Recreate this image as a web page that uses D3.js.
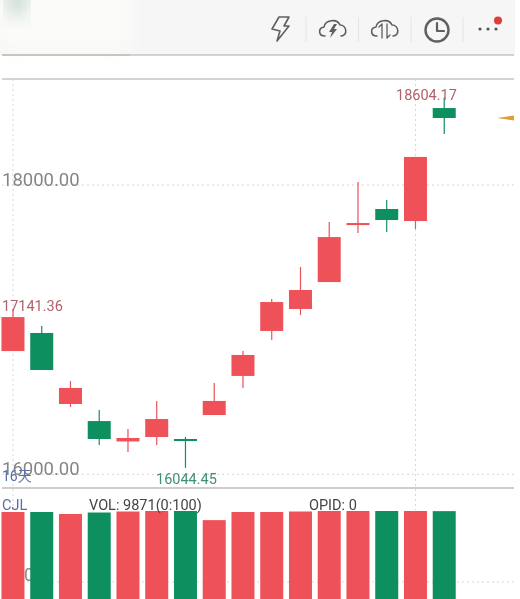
<!DOCTYPE html>
<html>
<head>
<meta charset="utf-8">
<script src="https://cdn.jsdelivr.net/npm/d3@7/dist/d3.min.js"></script>
<style>
html,body{margin:0;padding:0;background:#fff;overflow:hidden}
svg{display:block}
text{font-family:Roboto,"Noto Sans CJK SC",sans-serif}
</style>
</head>
<body>
<svg id="c" width="520" height="599"></svg>
<script>
const opens  = [16852,16977,16486,16368,16227,16258,16244,16410,16680,16991,17143,17329,17723,17834,17751,18532];
const closes = [17087,16721,16597,16244,16251,16382,16230,16507,16825,17191,17274,17640,17737,17758,18194,18463];
const highs  = [17141.36,17025,16645,16445,16313,16507,16258,16631,16852,17212,17433,17744,18021,17896,18194,18604.17];
const lows   = [16852,16721,16465,16203,16154,16203,16044.45,16410,16597,16928,17101,17329,17668,17675,17696,18353];
const volumes = [9773,9773,9550,9716,9830,9886,9886,8860,9773,9773,9830,9886,9886,9886,9886,9871];
const volumeUp = [1,0,1,0,1,1,0,1,1,1,1,1,1,0,1,0];
const priceTicks = [18000,16000];
const RED="#ee5159", GREEN="#0f8f5f";

const svg=d3.select("#c");
const defs=svg.append("defs");
defs.append("filter").attr("id","soft").attr("x","-50%").attr("y","-50%").attr("width","200%").attr("height","200%")
  .append("feGaussianBlur").attr("stdDeviation",9);
defs.append("filter").attr("id","photo").attr("x","0").attr("y","0").attr("width","100%").attr("height","100%")
  .attr("filterUnits","userSpaceOnUse").attr("x",0).attr("y",0).attr("width",520).attr("height",599)
  .append("feGaussianBlur").attr("stdDeviation",0.4);
const root=svg.append("g").attr("filter","url(#photo)");

const idx=d3.range(opens.length);
const x=d3.scaleBand().domain(idx).range([-1.4,458.6]).paddingInner(0.2).paddingOuter(0.1);
const y=d3.scaleLinear().domain([16000,18000]).range([474.3,185]);
const yv=d3.scaleLinear().domain([0,9886]).range([599,511]);
const cx=i=>x(i)+x.bandwidth()/2;

root.append("rect").attr("x",0).attr("y",0).attr("width",520).attr("height",599).attr("fill","#fff");
// top app bar
root.append("rect").attr("x",0).attr("y",0).attr("width",520).attr("height",55).attr("fill","#f6f6f6");
root.append("rect").attr("x",0).attr("y",-10).attr("width",130).attr("height",62).attr("fill","#fbfbf9").attr("filter","url(#soft)");
root.append("rect").attr("x",10).attr("y",-14).attr("width",14).attr("height",28).attr("fill","#a9c9b6").attr("filter","url(#soft)").attr("opacity",.9);
root.append("rect").attr("x",515).attr("y",0).attr("width",5).attr("height",599).attr("fill","#fff");

// frame lines
[[55,514],[79,514],[488,514]].forEach(([yy,x2])=>{
  root.append("line").attr("x1",2).attr("x2",x2).attr("y1",yy).attr("y2",yy)
    .attr("stroke",yy===488?"#bdbdbd":"#a9a9a9").attr("stroke-width",yy===488?1.6:1);
});
root.append("line").attr("x1",2).attr("x2",130).attr("y1",55).attr("y2",55).attr("stroke","#c2c4b8").attr("stroke-width",1.5);

// grids
const grid=root.append("g").attr("stroke","#d6d6d6").attr("stroke-dasharray","2 3").attr("stroke-width",1);
priceTicks.forEach(t=>grid.append("line").attr("x1",2).attr("x2",514).attr("y1",y(t)).attr("y2",y(t)));
grid.append("line").attr("x1",2).attr("x2",514).attr("y1",582).attr("y2",582);
grid.append("line").attr("x1",cx(0)).attr("x2",cx(0)).attr("y1",79).attr("y2",510);
grid.append("line").attr("x1",cx(14)).attr("x2",cx(14)).attr("y1",79).attr("y2",510);

// icons
const ic=root.append("g").attr("fill","none").attr("stroke","#5f5f5f").attr("stroke-width",1.6).attr("stroke-linejoin","round").attr("stroke-linecap","round");
ic.append("path").attr("d","M279 17 L289 17 L284 26 L289 26 L277 41 L280 31 L272 29 Z");
[306,358.5,411,463].forEach(v=>root.append("line").attr("x1",v).attr("x2",v).attr("y1",17).attr("y2",42).attr("stroke","#e4e4e4"));
const cloud=dx=>`M${dx+5} 36 C${dx-2} 36 ${dx-2} 28 ${dx+4} 27 C${dx+5} 20 ${dx+17} 18 ${dx+20} 25 C${dx+27} 25 ${dx+28} 36 ${dx+21} 36`;
ic.append("path").attr("d",cloud(320));
ic.append("path").attr("fill","#5f5f5f").attr("stroke","none").attr("d","M334 24 L329 32 L332 32 L330 38 L337 29 L334 29 L337 24 Z");
ic.append("path").attr("d",cloud(372));
ic.append("path").attr("stroke-width",1.3).attr("d","M382 38 L382 24 M379 27 L382 24 M387 24 L387 38 L390 35");
ic.append("circle").attr("cx",437).attr("cy",30).attr("r",11.5).attr("stroke-width",2.4);
ic.append("path").attr("stroke-width",2.2).attr("d","M437 23 L437 31 L444 31");
[480,488,496].forEach(v=>root.append("circle").attr("cx",v).attr("cy",29).attr("r",1.6).attr("fill","#555"));
root.append("circle").attr("cx",498).attr("cy",20.5).attr("r",4).attr("fill","#e23b3b");

// price axis
const axis=d3.axisLeft(y).tickValues(priceTicks).tickSize(0).tickPadding(0).tickFormat(d3.format(".2f"));
const ag=root.append("g").call(axis);
ag.select(".domain").remove();
ag.selectAll("text").attr("x",2).attr("dy",0).attr("y",0).attr("text-anchor","start")
  .attr("font-size",18.5).attr("fill","#858585").attr("font-family","Roboto");

// 16天 label
root.append("text").attr("x",2).attr("y",481).attr("font-size",14).attr("fill","#5a6fa8").text("16天");

// candles
const col=i=>closes[i]>opens[i]?RED:GREEN;
root.append("g").selectAll("line").data(idx).join("line")
  .attr("x1",cx).attr("x2",cx).attr("y1",i=>y(highs[i])).attr("y2",i=>y(lows[i]))
  .attr("stroke",col).attr("stroke-width",1.2);
root.append("g").selectAll("rect").data(idx).join("rect")
  .attr("x",i=>x(i)).attr("width",x.bandwidth())
  .attr("y",i=>y(Math.max(opens[i],closes[i])))
  .attr("height",i=>Math.max(1.5,Math.abs(y(opens[i])-y(closes[i]))))
  .attr("fill",col);

// value labels
const lab=(t,xx,yy,c)=>root.append("text").attr("x",xx).attr("y",yy).attr("font-size",14.5).attr("fill",c).text(t);
lab(d3.format(".2f")(highs[0]),2,311,"#b0616a");
lab(d3.format(".2f")(highs[15]),396,100,"#b0616a");
lab(d3.format(".2f")(lows[6]),156,484,"#3f8f78");

// orange marker
root.append("path").attr("d","M497 118 L514 115.5 L514 120.5 Z").attr("fill","#e0a030");

// volume zero label, under bars
root.append("text").attr("x",24).attr("y",581).attr("font-size",18).attr("fill","#8a8a8a").text("0");

// volume bars
root.append("g").selectAll("rect").data(idx).join("rect")
  .attr("x",i=>x(i)).attr("width",x.bandwidth())
  .attr("y",i=>yv(volumes[i])).attr("height",i=>599-yv(volumes[i]))
  .attr("fill",i=>volumeUp[i]?RED:GREEN);

// volume legend
lab("CJL",2,510,"#5a6fa8");
lab("VOL: "+volumes[15]+"(0:100)",89,510,"#444");
lab("OPID: 0",309,510,"#444");
</script>
</body>
</html>
